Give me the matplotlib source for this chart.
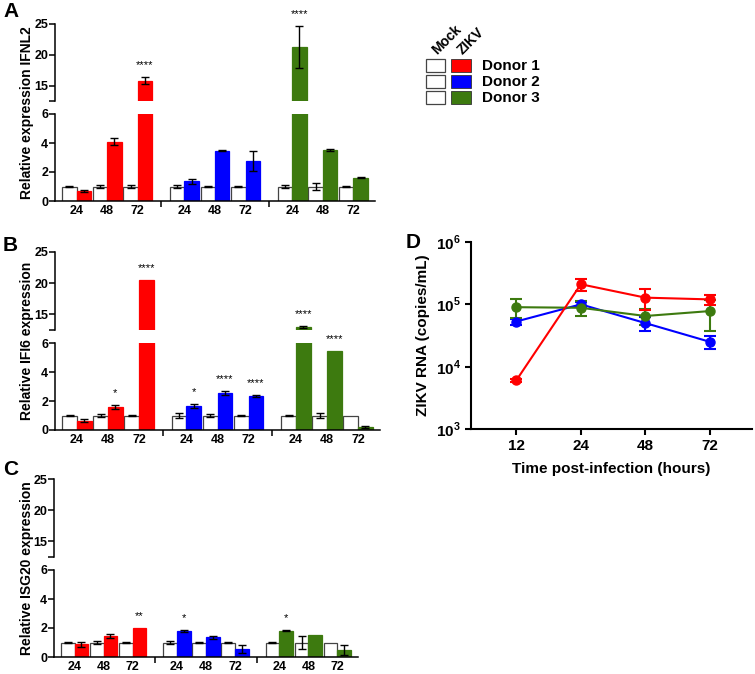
import matplotlib
matplotlib.use('Agg')
import matplotlib.pyplot as plt
import numpy as np
from matplotlib.patches import Rectangle

plt.rcParams['font.family'] = ['Liberation Sans', 'DejaVu Sans']
plt.rcParams['font.weight'] = 'bold'
plt.rcParams['mathtext.fontset'] = 'custom'
plt.rcParams['mathtext.rm'] = 'Liberation Sans:bold'
plt.rcParams['mathtext.bf'] = 'Liberation Sans:bold'

# ---------------- data ----------------
hours = ['24', '48', '72']
donors = ['Donor 1', 'Donor 2', 'Donor 3']
donor_colors = ['#ff0000', '#0000ff', '#3d7a0f']

ifnl2_mock = [1.0, 1.0, 1.0, 1.0, 1.0, 1.0, 1.0, 1.0, 1.0]
ifnl2_mock_err = [0.03, 0.1, 0.1, 0.12, 0.06, 0.02, 0.12, 0.22, 0.03]
ifnl2_zikv = [0.7, 4.1, 15.8, 1.35, 3.47, 2.78, 21.3, 3.52, 1.6]
ifnl2_zikv_err = [0.05, 0.25, 0.6, 0.17, 0.02, 0.7, 3.4, 0.08, 0.03]
ifnl2_stars = ['', '', '****', '', '', '', '****', '', '']

ifi6_mock = [1.0, 1.0, 1.0, 1.0, 1.0, 1.0, 1.0, 1.0, 1.0]
ifi6_mock_err = [0.02, 0.08, 0.05, 0.15, 0.07, 0.03, 0.02, 0.15, 0.0]
ifi6_zikv = [0.65, 1.58, 20.5, 1.65, 2.55, 2.35, 13.0, 5.44, 0.2]
ifi6_zikv_err = [0.12, 0.12, 0.0, 0.12, 0.15, 0.05, 0.15, 0.0, 0.05]
ifi6_stars = ['', '*', '****', '*', '****', '****', '****', '****', '']

isg20_mock = [1.0, 1.0, 1.0, 1.0, 1.0, 1.0, 1.0, 1.0, 1.0]
isg20_mock_err = [0.02, 0.07, 0.02, 0.1, 0.02, 0.04, 0.02, 0.42, 0.0]
isg20_zikv = [0.87, 1.45, 2.02, 1.79, 1.35, 0.57, 1.82, 1.52, 0.5]
isg20_zikv_err = [0.15, 0.15, 0.0, 0.1, 0.13, 0.27, 0.05, 0.0, 0.35]
isg20_stars = ['', '', '**', '*', '', '', '*', '', '']

time_labels = ['12', '24', '48', '72']
rna_donor1 = [6.0e3, 2.1e5, 1.28e5, 1.2e5]
rna_donor1_err = [0.4e3, 0.45e5, 0.47e5, 0.22e5]
rna_donor2 = [5.3e4, 1.0e5, 5.0e4, 2.5e4]
rna_donor2_err = [0.6e4, 0.1e5, 1.2e4, 0.6e4]
rna_donor3 = [9.0e4, 8.8e4, 6.5e4, 7.8e4]
rna_donor3_err = [3.0e4, 2.4e4, 1.8e4, 4.1e4]

# ---------------- layout ----------------
W, H = 755, 674
fig = plt.figure(figsize=(W / 100, H / 100), dpi=100)


def add_ax(x0, y0, x1, y1):
    return fig.add_axes([x0 / W, 1 - y1 / H, (x1 - x0) / W, (y1 - y0) / H])


G, P = 7.47, 2.12
pair_centers = np.array([g * G + k * P for g in range(3) for k in range(3)])
bar_colors = [c for c in donor_colors for _ in range(3)]
group_bounds = [(2 * P + G) / 2, G + (2 * P + G) / 2]
err_kw = dict(fmt='none', ecolor='black', elinewidth=1.0, capsize=3.2, capthick=1.0, zorder=3)


def draw_bars(ax, mock, mock_err, zikv, zikv_err):
    ax.bar(pair_centers - 0.5, mock, width=1, color='white', edgecolor='#444444',
           linewidth=0.9, zorder=2)
    ax.bar(pair_centers + 0.5, zikv, width=1, color=bar_colors, edgecolor=bar_colors,
           linewidth=0.9, zorder=2)
    me = np.array(mock_err); ze = np.array(zikv_err)
    m = me > 0
    ax.errorbar((pair_centers - 0.5)[m], np.array(mock)[m], yerr=me[m], **err_kw)
    z = ze > 0
    ax.errorbar((pair_centers + 0.5)[z], np.array(zikv)[z], yerr=ze[z], **err_kw)


def bar_panel(x0, x1, y_top, y_hi, y_lo, y_bot, mock, mock_err, zikv, zikv_err,
              stars, ylabel, letter, letter_y):
    up = add_ax(x0, y_top, x1, y_hi)
    lo = add_ax(x0, y_lo, x1, y_bot)
    for ax in (up, lo):
        draw_bars(ax, mock, mock_err, zikv, zikv_err)
        ax.set_xlim(-1.5, pair_centers[-1] + 1.5)
        for s in ('top', 'right'):
            ax.spines[s].set_visible(False)
        ax.spines['left'].set_linewidth(1.1)
        ax.tick_params(axis='y', direction='out', length=4, width=1.1, labelsize=9, pad=1)
    up.set_ylim(12.5, 25)
    up.set_yticks([15, 20, 25])
    up.set_yticks([12.5], minor=True)
    up.tick_params(axis='y', which='minor', length=4, width=1.1)
    up.spines['bottom'].set_visible(False)
    up.set_xticks([])
    lo.set_ylim(0, 6)
    lo.set_yticks([0, 2, 4, 6])
    lo.spines['bottom'].set_linewidth(1.1)
    lo.set_xticks(pair_centers)
    lo.set_xticklabels(hours * 3)
    lo.set_xticks(group_bounds, minor=True)
    lo.tick_params(axis='x', which='major', length=0, labelsize=9, pad=3)
    lo.tick_params(axis='x', which='minor', length=4, width=1.1, direction='out')
    for i, s in enumerate(stars):
        if not s:
            continue
        top = zikv[i] + zikv_err[i]
        ax = up if zikv[i] > 6 else lo
        ax.annotate(s, (pair_centers[i] + 0.5, top), xytext=(0, 5),
                    textcoords='offset points', ha='center', va='bottom',
                    fontsize=8, fontweight='normal', annotation_clip=False)
    fig.text(27 / W, 1 - ((y_top + y_bot) / 2) / H, ylabel, rotation=90,
             ha='center', va='center', fontsize=10, fontweight='bold')
    fig.text(3 / W, 1 - letter_y / H, letter, ha='left', va='top',
             fontsize=15, fontweight='bold')


bar_panel(55, 375, 24, 101, 114, 201, ifnl2_mock, ifnl2_mock_err, ifnl2_zikv,
          ifnl2_zikv_err, ifnl2_stars, 'Relative expression IFNL2', 'A', 2)
bar_panel(55, 380, 252, 330, 343, 430, ifi6_mock, ifi6_mock_err, ifi6_zikv,
          ifi6_zikv_err, ifi6_stars, 'Relative IFI6 expression', 'B', 236)
bar_panel(54, 358, 479, 557, 570, 657, isg20_mock, isg20_mock_err, isg20_zikv,
          isg20_zikv_err, isg20_stars, 'Relative ISG20 expression', 'C', 460)

# ---------------- legend ----------------
lg = add_ax(400, 0, 600, 110)
lg.set_xlim(400, 600)
lg.set_ylim(110, 0)
lg.axis('off')
row_y = [65.5, 81.5, 97.5]
for d, c, yy in zip(donors, donor_colors, row_y):
    lg.add_patch(Rectangle((426, yy - 6.3), 19, 12.6, facecolor='white',
                           edgecolor='#444444', linewidth=0.9))
    lg.add_patch(Rectangle((451, yy - 6.3), 20, 12.6, facecolor=c,
                           edgecolor='#333333', linewidth=0.6))
    lg.text(482, yy, d, ha='left', va='center', fontsize=11, fontweight='bold')
lg.text(437, 55, 'Mock', rotation=45, rotation_mode='anchor', ha='left',
        va='baseline', fontsize=10, fontweight='bold')
lg.text(463, 55, 'ZIKV', rotation=45, rotation_mode='anchor', ha='left',
        va='baseline', fontsize=10, fontweight='bold')

# ---------------- panel D ----------------
axd = add_ax(471, 242, 752, 429)
x = np.arange(len(time_labels))
for vals, errs, c in ((rna_donor2, rna_donor2_err, donor_colors[1]),
                      (rna_donor3, rna_donor3_err, donor_colors[2]),
                      (rna_donor1, rna_donor1_err, donor_colors[0])):
    axd.errorbar(x, vals, yerr=errs, color=c, marker='o', markersize=6.5,
                 linewidth=1.5, elinewidth=1.5, capsize=4.5, capthick=1.5)
axd.set_yscale('log')
axd.set_ylim(1e3, 1e6)
axd.set_xlim(-0.7, 3.65)
axd.set_yticks([1e3, 1e4, 1e5, 1e6])
axd.set_yticklabels([r'$10^{3}$', r'$10^{4}$', r'$10^{5}$', r'$10^{6}$'])
axd.minorticks_off()
axd.set_xticks(x)
axd.set_xticklabels(time_labels)
for s in ('top', 'right'):
    axd.spines[s].set_visible(False)
for s in ('left', 'bottom'):
    axd.spines[s].set_linewidth(1.5)
axd.tick_params(axis='both', direction='out', length=4, width=1.5, labelsize=11)
axd.set_xlabel('Time post-infection (hours)', fontsize=11, fontweight='bold', labelpad=6)
axd.set_ylabel('ZIKV RNA (copies/mL)', fontsize=11, fontweight='bold', labelpad=4)
fig.text(406 / W, 1 - 233 / H, 'D', ha='left', va='top', fontsize=15, fontweight='bold')

fig.savefig('out.png', dpi=100)
